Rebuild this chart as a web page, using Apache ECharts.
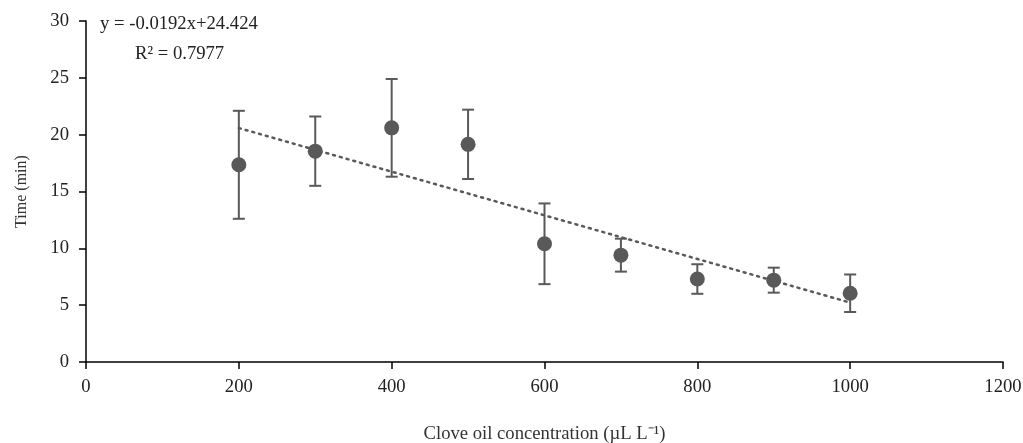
<!DOCTYPE html>
<html>
<head>
<meta charset="utf-8">
<script src="https://cdn.jsdelivr.net/npm/echarts@6/dist/echarts.min.js"></script>
<style>
  html, body { margin: 0; padding: 0; background: #fff; }
  #chart { width: 1023px; height: 443px; }
</style>
</head>
<body>
<div id="chart"></div>
<script>
// data
var concentration = [200, 300, 400, 500, 600, 700, 800, 900, 1000];
var meanTime = [17.35, 18.55, 20.6, 19.15, 10.4, 9.4, 7.3, 7.2, 6.05];
var sdTime = [4.75, 3.05, 4.3, 3.05, 3.55, 1.45, 1.3, 1.1, 1.65];
var xTicks = [0, 200, 400, 600, 800, 1000, 1200];
var yTicks = [0, 5, 10, 15, 20, 25, 30];

// linear trendline as printed on the chart
var slope = -0.0192;
var intercept = 24.424;
var trendX = [200, 1000];

var grey = '#595959';
var font = '"Liberation Serif", "Times New Roman", serif';
var fs = 18.67; // 14pt

var chart = echarts.init(document.getElementById('chart'));

var points = concentration.map(function (x, i) { return [x, meanTime[i]]; });
var bars = concentration.map(function (x, i) {
  return [x, meanTime[i] - sdTime[i], meanTime[i] + sdTime[i]];
});
var trend = trendX.map(function (x) { return [x, slope * x + intercept]; });

var option = {
  animation: false,
  backgroundColor: '#fff',
  grid: { left: 86, right: 20, top: 21, bottom: 81, containLabel: false, outerBoundsMode: 'none' },
  textStyle: { fontFamily: font },
  xAxis: {
    type: 'value',
    min: xTicks[0],
    max: xTicks[xTicks.length - 1],
    interval: 200,
    name: 'Clove oil concentration (\u00B5L L\u207B\u00B9)',
    nameLocation: 'middle',
    nameGap: 63,
    nameTextStyle: { fontFamily: font, fontSize: fs, color: '#333' },
    axisLine: { show: true, onZero: false, lineStyle: { color: '#000', width: 1.5 } },
    axisTick: { show: true, length: 7, lineStyle: { color: '#000', width: 1.5 } },
    axisLabel: {
      fontFamily: font, fontSize: fs, color: '#222', margin: 16,
      formatter: function (v) { return String(v); }
    },
    splitLine: { show: false }
  },
  yAxis: {
    type: 'value',
    min: yTicks[0],
    max: yTicks[yTicks.length - 1],
    interval: 5,
    name: 'Time (min)',
    nameLocation: 'middle',
    nameGap: 56,
    nameTextStyle: { fontFamily: font, fontSize: 16, color: '#333' },
    axisLine: { show: true, lineStyle: { color: '#000', width: 1.5 } },
    axisTick: { show: true, length: 7, lineStyle: { color: '#000', width: 1.5 } },
    axisLabel: {
      fontFamily: font, fontSize: fs, color: '#222', margin: 17,
      formatter: function (v) { return String(v); }
    },
    splitLine: { show: false }
  },
  graphic: [
    {
      type: 'text', left: 100, top: 15,
      style: { text: 'y = -0.0192x+24.424', font: fs + 'px ' + font, fill: '#222' }
    },
    {
      type: 'text', left: 135, top: 45,
      style: { text: 'R\u00B2 = 0.7977', font: fs + 'px ' + font, fill: '#222' }
    }
  ],
  series: [
    {
      name: 'trend',
      type: 'line',
      data: trend,
      symbol: 'none',
      z: 1,
      lineStyle: { color: grey, width: 2.5, type: [2, 5], cap: 'round' }
    },
    {
      name: 'sd',
      type: 'custom',
      data: bars,
      z: 2,
      renderItem: function (params, api) {
        var lo = api.coord([api.value(0), api.value(1)]);
        var hi = api.coord([api.value(0), api.value(2)]);
        var w = 6;
        var st = { stroke: grey, lineWidth: 2 };
        return {
          type: 'group',
          children: [
            { type: 'line', shape: { x1: hi[0], y1: hi[1], x2: lo[0], y2: lo[1] }, style: st },
            { type: 'line', shape: { x1: hi[0] - w, y1: hi[1], x2: hi[0] + w, y2: hi[1] }, style: st },
            { type: 'line', shape: { x1: lo[0] - w, y1: lo[1], x2: lo[0] + w, y2: lo[1] }, style: st }
          ]
        };
      }
    },
    {
      name: 'mean',
      type: 'scatter',
      data: points,
      symbol: 'circle',
      symbolSize: 15,
      z: 3,
      itemStyle: { color: grey, opacity: 1 }
    }
  ]
};

chart.setOption(option);
</script>
</body>
</html>
